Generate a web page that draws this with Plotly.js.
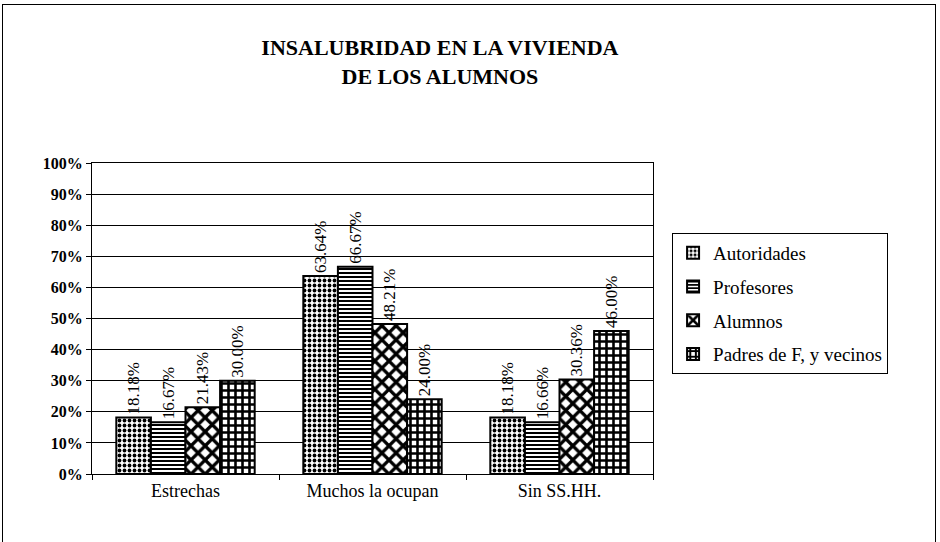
<!DOCTYPE html>
<html><head><meta charset="utf-8">
<script src="https://cdn.plot.ly/plotly-3.0.1.min.js"></script>
<style>html,body{margin:0;padding:0;background:#fff}
#frame{position:absolute;left:2px;top:4px;width:934px;height:560px;border:1px solid #000;box-sizing:border-box}
#chart{position:absolute;left:0;top:0;width:940px;height:542px}</style>
</head><body><div id="frame"></div><div id="chart"></div>
<script>
const categories = ["Estrechas", "Muchos la ocupan", "Sin SS.HH."];
const seriesNames = ["Autoridades", "Profesores", "Alumnos", "Padres de F, y vecinos"];
const autoridades = [18.18, 63.64, 18.18];
const profesores = [16.67, 66.67, 16.66];
const alumnos = [21.43, 48.21, 30.36];
const padres = [30.00, 24.00, 46.00];
const yTicks = [0,10,20,30,40,50,60,70,80,90,100];

const values = [autoridades, profesores, alumnos, padres];
const patterns = [
  {shape: ".", fgcolor: "#000", bgcolor: "#fff", size: 5, solidity: 0.45},
  {shape: "-", fgcolor: "#000", bgcolor: "#fff", size: 4, solidity: 0.5},
  {shape: "x", fgcolor: "#000", bgcolor: "#fff", size: 10, solidity: 0.55},
  {shape: "+", fgcolor: "#000", bgcolor: "#fff", size: 7, solidity: 0.6}
];
const serif = "Liberation Serif";
const traces = values.map((v, i) => ({
  type: "bar", name: seriesNames[i], x: categories, y: v, legendgroup: "g" + i,
  marker: {color: "#fff", pattern: patterns[i], line: {color: "#000", width: 2}},
  text: v.map(n => n.toFixed(2) + "%"), textposition: "outside", textangle: -90,
  constraintext: "none",
  textfont: {family: serif, size: 17, color: "#000"}, cliponaxis: false,
  hoverinfo: "none"
}));
const layout = {
  width: 940, height: 542,
  margin: {l: 92, r: 287, t: 163, b: 68},
  paper_bgcolor: "rgba(0,0,0,0)", plot_bgcolor: "#fff",
  barmode: "group", bargap: 0.26, bargroupgap: 0,
  showlegend: true,
  title: {text: "<b>INSALUBRIDAD EN LA VIVIENDA<br>DE LOS ALUMNOS</b>", x: 0.468, xanchor: "center", y: 0.898, yanchor: "top",
    font: {family: serif, size: 22, color: "#000"}},
  legend: {x: 1.034, xanchor: "left", y: 0.775, yanchor: "top", bordercolor: "#000", borderwidth: 1,
    font: {family: serif, size: 19, color: "#000"}, itemwidth: 30, tracegroupgap: 6, bgcolor: "#fff"},
  xaxis: {showline: true, linecolor: "#000", linewidth: 1, mirror: true, ticks: "outside", tickson: "boundaries",
    ticklen: 5, tickcolor: "#000", tickfont: {family: serif, size: 18, color: "#000"}, showgrid: false},
  yaxis: {range: [0, 100], tickvals: yTicks, ticktext: yTicks.map(t => "<b>" + t + "%</b>"),
    showline: true, linecolor: "#000", linewidth: 1, mirror: true, ticks: "outside", ticklen: 5, tickcolor: "#000",
    showgrid: true, gridcolor: "#000", gridwidth: 1, zeroline: false,
    tickfont: {family: serif, size: 16, color: "#000"}}
};
Plotly.newPlot("chart", traces, layout, {displayModeBar: false, staticPlot: true});
</script></body></html>
